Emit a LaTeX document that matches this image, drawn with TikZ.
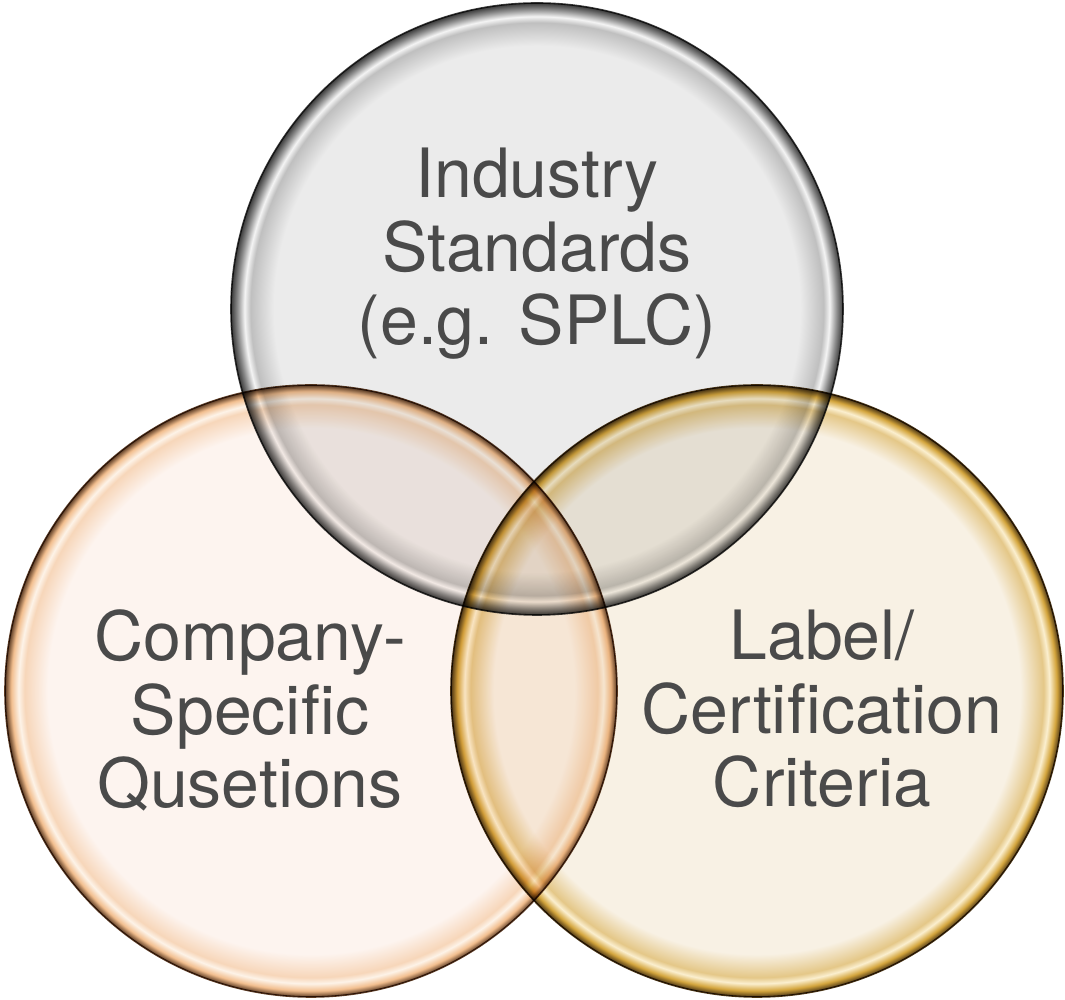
\documentclass[tikz,border=0pt]{standalone}
\usepackage{fontspec}
\setmainfont{TeX Gyre Heros}
\definecolor{txtgrey}{HTML}{4A4A4A}
\definecolor{stdF}{HTML}{EBEBEB}\definecolor{stdR}{HTML}{8A8A8A}\definecolor{stdL}{HTML}{F4F4F4}\definecolor{stdE}{HTML}{3A3A3A}
\definecolor{cmpF}{HTML}{FDF4EF}\definecolor{cmpR}{HTML}{F2BE8E}\definecolor{cmpL}{HTML}{FDF3E8}\definecolor{cmpE}{HTML}{5B3A22}
\definecolor{lblF}{HTML}{F8F1E4}\definecolor{lblR}{HTML}{D4A53C}\definecolor{lblL}{HTML}{FBEFCF}\definecolor{lblE}{HTML}{4A3515}
\pgfdeclareradialshading{stdglass}{\pgfpoint{0bp}{0bp}}{color(0bp)=(stdF); color(21.5bp)=(stdF); color(23.4bp)=(stdR!45!stdF); color(23.9bp)=(stdL); color(24.5bp)=(stdR); color(25bp)=(stdE); color(50bp)=(stdE)}
\pgfdeclareradialshading{cmpglass}{\pgfpoint{0bp}{0bp}}{color(0bp)=(cmpF); color(21.5bp)=(cmpF); color(23.4bp)=(cmpR!55!cmpF); color(23.9bp)=(cmpL); color(24.5bp)=(cmpR); color(25bp)=(cmpE); color(50bp)=(cmpE)}
\pgfdeclareradialshading{lblglass}{\pgfpoint{0bp}{0bp}}{color(0bp)=(lblF); color(21.5bp)=(lblF); color(23.4bp)=(lblR!55!lblF); color(23.9bp)=(lblL); color(24.5bp)=(lblR); color(25bp)=(lblE); color(50bp)=(lblE)}
\tikzset{
  venn/.style={circle, minimum size=612pt, inner sep=0pt, shade, line width=1.6pt},
  txt/.style={font=\fontsize{68}{73.5}\selectfont, text=txtgrey, align=center, inner sep=0pt}
}
\begin{document}
\begin{tikzpicture}[x=1pt,y=1pt]
\useasboundingbox (0,0) rectangle (1065,1000);
\fill[white] (0,0) rectangle (1065,1000);
\begin{scope}[blend mode=multiply]
\node[venn, shading=stdglass, draw=stdE] (std) at (537,691) {};
\node[venn, shading=cmpglass, draw=cmpE] (cmp) at (311,309) {};
\node[venn, shading=lblglass, draw=lblE] (lbl) at (757,309) {};
\end{scope}
\node[txt] (stdtxt) at (537,746) {Industry\\Standards\\(e.g. SPLC)};
\node[txt] (cmptxt) at (250,289.5) {Company-\\Specific\\Qusetions};
\node[txt] (lbltxt) at (822,291) {Label/\\Certification\\Criteria};
\end{tikzpicture}
\end{document}
